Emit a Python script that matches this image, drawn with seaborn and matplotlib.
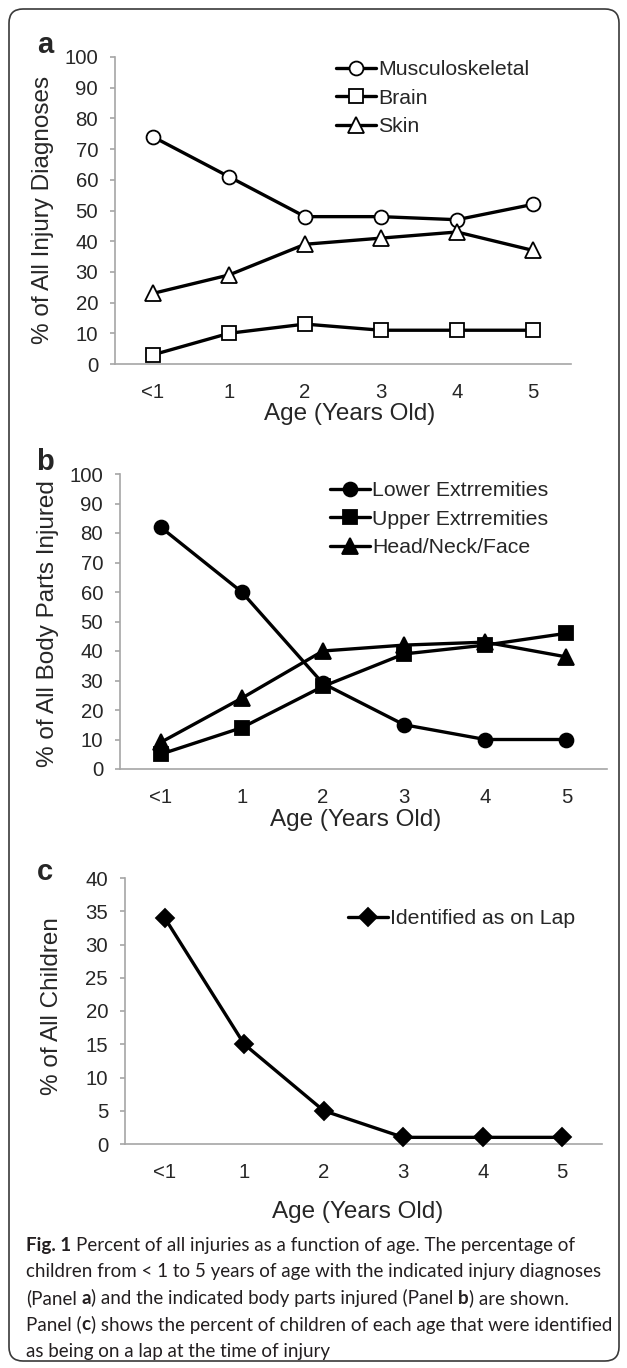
import numpy as np
import matplotlib
matplotlib.use("Agg")
import matplotlib.pyplot as plt
import seaborn as sns
from matplotlib.patches import FancyBboxPatch
from matplotlib.transforms import IdentityTransform

# data
ages = ["<1", "1", "2", "3", "4", "5"]

musculoskeletal = [74, 61, 48, 48, 47, 52]
brain = [3, 10, 13, 11, 11, 11]
skin = [23, 29, 39, 41, 43, 37]

lower_ext = [82, 60, 29, 15, 10, 10]
upper_ext = [5, 14, 28, 39, 42, 46]
head_neck_face = [9, 24, 40, 42, 43, 38]

on_lap = [34, 15, 5, 1, 1, 1]

# caption, as (text, bold) pieces per line
caption_lines = [
    [("Fig. 1", True), (" Percent of all injuries as a function of age. The percentage of", False)],
    [("children from < 1 to 5 years of age with the indicated injury diagnoses", False)],
    [("(Panel ", False), ("a", True), (") and the indicated body parts injured (Panel ", False),
     ("b", True), (") are shown.", False)],
    [("Panel (", False), ("c", True),
     (") shows the percent of children of each age that were identified", False)],
    [("as being on a lap at the time of injury", False)],
]

sns.set_style("white")
plt.rcParams["font.family"] = ["Liberation Sans", "DejaVu Sans"]

W, H = 627, 1368
fig = plt.figure(figsize=(W / 100, H / 100), dpi=100)
fig.patch.set_facecolor("white")
renderer = fig.canvas.get_renderer()

GRAY = "#a6a6a6"


def px_axes(left, top, right, bottom):
    return fig.add_axes([left / W, 1 - bottom / H, (right - left) / W, (bottom - top) / H])


def ftext(x, y, s, **kw):
    return fig.text(x / W, 1 - y / H, s, **kw)


def style_axes(ax, ymax, ystep):
    ax.set_xlim(-0.5, 5.5)
    ax.set_ylim(0, ymax)
    ax.set_yticks(np.arange(0, ymax + 1, ystep))
    ax.set_xticks(range(6))
    ax.set_xticks(np.arange(-0.5, 6, 1), minor=True)
    for s in ["top", "right"]:
        ax.spines[s].set_visible(False)
    for s in ["left", "bottom"]:
        ax.spines[s].set_color(GRAY)
        ax.spines[s].set_linewidth(1.2)
    ax.tick_params(axis="x", which="major", length=0, pad=13.5, labelsize=14.7)
    ax.tick_params(axis="x", which="minor", length=4.5, width=1.2, color=GRAY, direction="out")
    ax.tick_params(axis="y", length=3.6, width=1.2, color=GRAY, pad=8.6, labelsize=14.7,
                   direction="out", left=True)
    ax.set_xlabel("")
    ax.set_ylabel("")


def draw(ax, vals, label, marker, ms, mfc):
    sns.lineplot(x=ages, y=vals, ax=ax, sort=False, errorbar=None, color="black",
                 linewidth=2.4, marker=marker, markersize=ms, mfc=mfc, mec="black",
                 mew=1.3, label=label, clip_on=False, zorder=3)


leg_kw = dict(loc="upper left", frameon=False, fontsize=15.3, handlelength=1.9,
              handletextpad=0.1, labelspacing=0.45, borderaxespad=0, borderpad=0)

# panel a
ax_a = px_axes(115, 57, 571, 364)
draw(ax_a, musculoskeletal, "Musculoskeletal", "o", 10, "white")
draw(ax_a, brain, "Brain", "s", 9.5, "white")
draw(ax_a, skin, "Skin", "^", 11.5, "white")
style_axes(ax_a, 100, 10)
ax_a.legend(bbox_to_anchor=((336 - 115) / 456, (364 - 60) / 307), **leg_kw)

# panel b
ax_b = px_axes(120, 474, 607, 769)
draw(ax_b, lower_ext, "Lower Extrremities", "o", 10, "black")
draw(ax_b, upper_ext, "Upper Extrremities", "s", 9.5, "black")
draw(ax_b, head_neck_face, "Head/Neck/Face", "^", 11.5, "black")
style_axes(ax_b, 100, 10)
ax_b.legend(bbox_to_anchor=((330 - 120) / 487, (769 - 481) / 295), **leg_kw)

# panel c
ax_c = px_axes(125, 878, 602, 1144)
draw(ax_c, on_lap, "Identified as on Lap", "D", 9.5, "black")
style_axes(ax_c, 40, 5)
ax_c.legend(bbox_to_anchor=((348 - 125) / 477, (1144 - 909) / 266), **leg_kw)

# axis titles
lab = dict(fontsize=17.5, ha="center", va="center")
ftext(43, 210, "% of All Injury Diagnoses", rotation=90, **lab)
ftext(48, 624, "% of All Body Parts Injured", rotation=90, **lab)
ftext(52, 1006, "% of All Children", rotation=90, **lab)
ftext(350, 414, "Age (Years Old)", **lab)
ftext(356, 820, "Age (Years Old)", **lab)
ftext(358, 1212, "Age (Years Old)", **lab)

# panel letters
for x, y, s in [(45, 45, "a"), (45, 462, "b"), (45, 872, "c")]:
    ftext(x, y, s, fontsize=21, fontweight="bold", ha="center", va="center")

# caption, drawn piece by piece so bold words sit inline
cap_kw = dict(family="Lato", fontsize=13.5, color="#231f20", ha="left", va="baseline")


def text_width(s, weight):
    t = ftext(0, 0, s, fontweight=weight, **cap_kw)
    w = t.get_window_extent(renderer).width
    t.remove()
    return w


space_w = text_width("n n", "normal") - text_width("nn", "normal")

for i, pieces in enumerate(caption_lines):
    x = 26
    y = 1251 + i * 26.5
    for s, bold in pieces:
        weight = "bold" if bold else "normal"
        core = s.strip()
        x += (len(s) - len(s.lstrip())) * space_w
        ftext(x, y, core, fontweight=weight, **cap_kw)
        x += text_width(core, weight) + (len(s) - len(s.rstrip())) * space_w

# rounded frame around the figure
frame = FancyBboxPatch((9, 7), 610, 1352, boxstyle="round,pad=0,rounding_size=14",
                       transform=IdentityTransform(), fill=False, edgecolor="#3a3a3a",
                       linewidth=1.2)
fig.patches.append(frame)

fig.savefig("out.png", dpi=100, facecolor="white")
